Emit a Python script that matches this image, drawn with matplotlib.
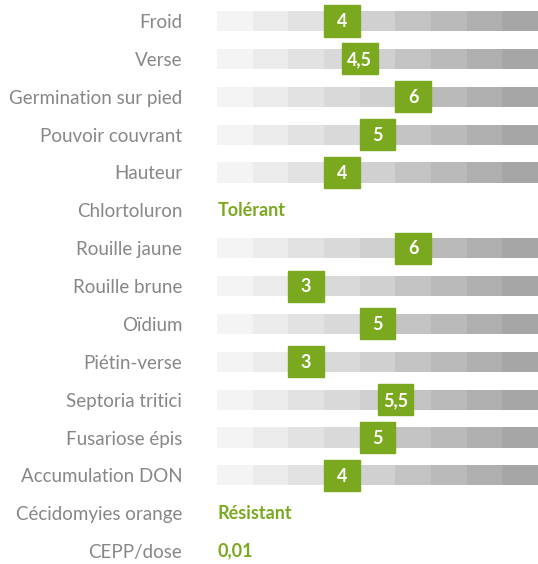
import matplotlib.pyplot as plt
from matplotlib.patches import Rectangle

labels = ["Froid", "Verse", "Germination sur pied", "Pouvoir couvrant", "Hauteur",
          "Chlortoluron", "Rouille jaune", "Rouille brune", "Oïdium", "Piétin-verse",
          "Septoria tritici", "Fusariose épis", "Accumulation DON",
          "Cécidomyies orange", "CEPP/dose"]
# numeric notes (None = text row)
scores = [4, 4.5, 6, 5, 4, None, 6, 3, 5, 3, 5.5, 5, 4, None, None]
text_values = {5: "Tolérant", 13: "Résistant", 14: "0,01"}

segment_colors = ['#f4f4f4', '#ebebeb', '#e2e2e2', '#d9d9d9', '#d0d0d0',
                  '#c4c4c4', '#b9b9b9', '#afafaf', '#a6a6a6']
green = '#7aa81e'
label_gray = '#878787'

plt.rcParams['font.family'] = ['Lato', 'DejaVu Sans']

fig = plt.figure(figsize=(5.38, 5.64), dpi=100)
ax = fig.add_axes([217 / 538, 0, 321 / 538, 1])
ax.set_xlim(0, 9)
ax.set_ylim(14.34, -0.555)

for i, s in enumerate(scores):
    if s is None:
        ax.text(0.02, i, text_values[i], color=green, fontsize=13, fontweight='bold',
                va='center', ha='left')
        continue
    ax.barh([i] * 9, [1] * 9, left=range(9), height=0.53, color=segment_colors)
    ax.add_patch(Rectangle((s - 1, i - 0.41), 1, 0.82, color=green, zorder=3))
    ax.text(s - 0.5, i + 0.02, str(s).replace('.', ','), color='white', fontsize=13,
            fontweight='bold', ha='center', va='center', zorder=4)

ax.set_yticks(range(len(labels)))
ax.set_yticklabels(labels, fontsize=13.5, color=label_gray)
ax.tick_params(axis='y', length=0, pad=25)
ax.set_xticks([])
for sp in ax.spines.values():
    sp.set_visible(False)

fig.savefig('out.png', dpi=100)
